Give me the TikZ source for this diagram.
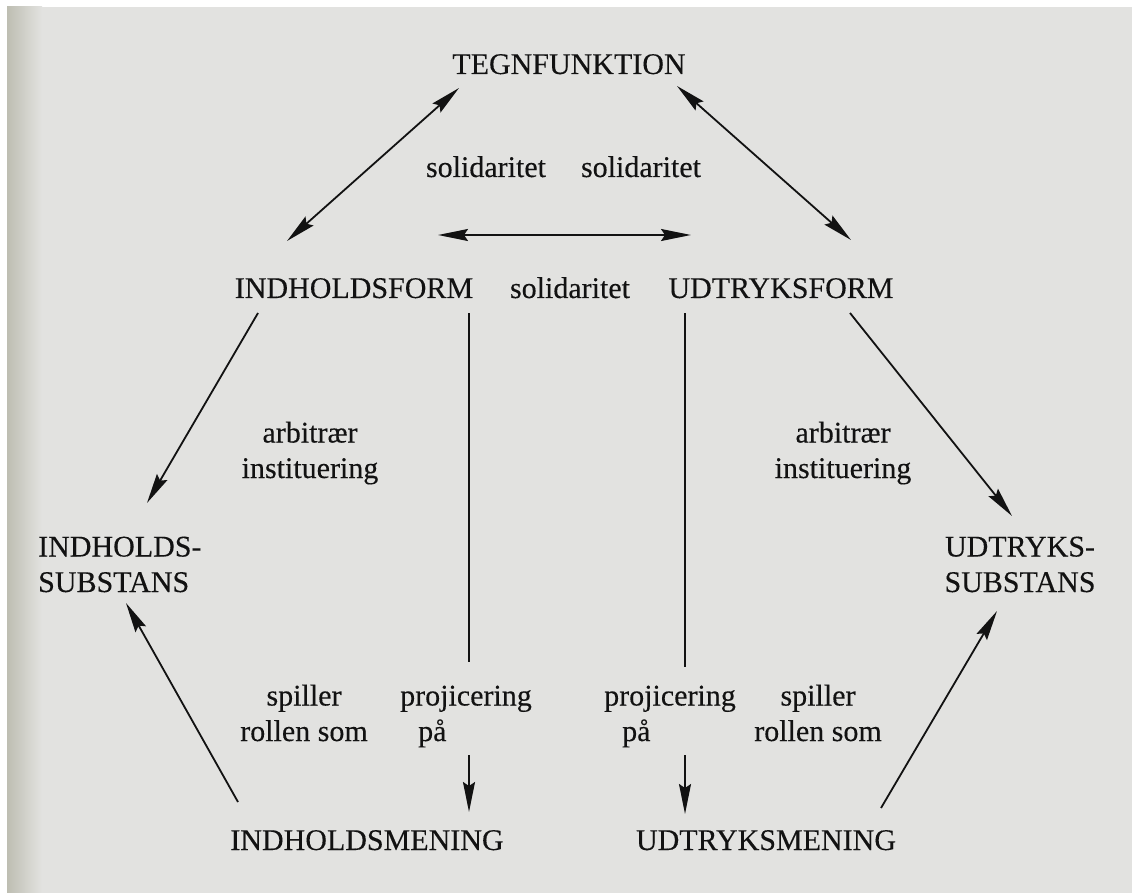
\documentclass[tikz,border=0pt]{standalone}
\usepackage{fontspec}
\setmainfont{Liberation Serif}[FakeBold=0.25]
\usetikzlibrary{arrows.meta}
\definecolor{paper}{RGB}{226,226,224}
\definecolor{binding}{RGB}{190,190,178}
\definecolor{ink}{RGB}{18,18,18}
\begin{document}
\begin{tikzpicture}[x=1pt,y=-1pt,
  lbl/.style={font=\fontsize{30}{35.5}\selectfont, inner sep=0pt, anchor=base, text=ink},
  link/.style={draw=ink, line width=1.8pt},
  tip/.style={-{Stealth[length=30pt,width=12pt,inset=4pt]}},
  tips/.style={{Stealth[length=30pt,width=12pt,inset=4pt]}-{Stealth[length=30pt,width=12pt,inset=4pt]}}]
% page
\fill[white] (0,0) rectangle (1132,893);
\fill[paper] (7,7) rectangle (1132,893);
\shade[left color=binding, right color=paper] (7,7) rectangle (42,893);
\useasboundingbox (0,0) rectangle (1132,893);

% terms (multi-line nodes: base = baseline of the last line)
\node[lbl] (tegn) at (569,74) {TEGNFUNKTION};
\node[lbl] (solL) at (486,177) {solidaritet};
\node[lbl] (solR) at (641,177) {solidaritet};
\node[lbl] (iform) at (354,298) {INDHOLDSFORM};
\node[lbl] (solM) at (570,298) {solidaritet};
\node[lbl] (uform) at (781,298) {UDTRYKSFORM};
\node[lbl, align=center] (arbL) at (310,478) {arbitrær\\instituering};
\node[lbl, align=center] (arbR) at (843,478) {arbitrær\\instituering};
\node[lbl, align=left, anchor=base west] (isub) at (38,592) {INDHOLDS-\\SUBSTANS};
\node[lbl, align=center] (usub) at (1020,592) {UDTRYKS-\\SUBSTANS};
\node[lbl, align=center] (spilL) at (304,741) {spiller\\rollen som};
\node[lbl, align=left, anchor=base west] (projL) at (400,741) {projicering\\\hspace*{18pt}på};
\node[lbl, align=left, anchor=base west] (projR) at (604,741) {projicering\\\hspace*{18pt}på};
\node[lbl, align=center] (spilR) at (818,741) {spiller\\rollen som};
\node[lbl] (imen) at (367,850) {INDHOLDSMENING};
\node[lbl] (umen) at (766,850) {UDTRYKSMENING};

% connector ends
\coordinate (tegnL) at (459,88);
\coordinate (tegnR) at (677,86);
\coordinate (iformT) at (287,241);
\coordinate (uformT) at (851,240);
\coordinate (iformE) at (438,235);
\coordinate (uformW) at (691,235);
\coordinate (iformB) at (258,313);
\coordinate (uformB) at (850,313);
\coordinate (isubT) at (147,503);
\coordinate (usubT) at (1012,516);
\coordinate (iformV) at (469,313);
\coordinate (iformVend) at (469,662);
\coordinate (iprojS) at (469,755);
\coordinate (imenT) at (469,812);
\coordinate (uformV) at (685,313);
\coordinate (uformVend) at (685,667);
\coordinate (uprojS) at (685,755);
\coordinate (umenT) at (685,814);
\coordinate (imenL) at (238,802);
\coordinate (isubB) at (126,603);
\coordinate (umenR) at (881,808);
\coordinate (usubB) at (997,611);

% solidarity
\draw[link, tips] (tegnL) -- (iformT);
\draw[link, tips] (tegnR) -- (uformT);
\draw[link, tips] (iformE) -- (uformW);
% arbitrary institution
\draw[link, tip] (iformB) -- (isubT);
\draw[link, tip] (uformB) -- (usubT);
% projection
\draw[link] (iformV) -- (iformVend);
\draw[link, tip] (iprojS) -- (imenT);
\draw[link] (uformV) -- (uformVend);
\draw[link, tip] (uprojS) -- (umenT);
% role
\draw[link, tip] (imenL) -- (isubB);
\draw[link, tip] (umenR) -- (usubB);
\end{tikzpicture}
\end{document}
